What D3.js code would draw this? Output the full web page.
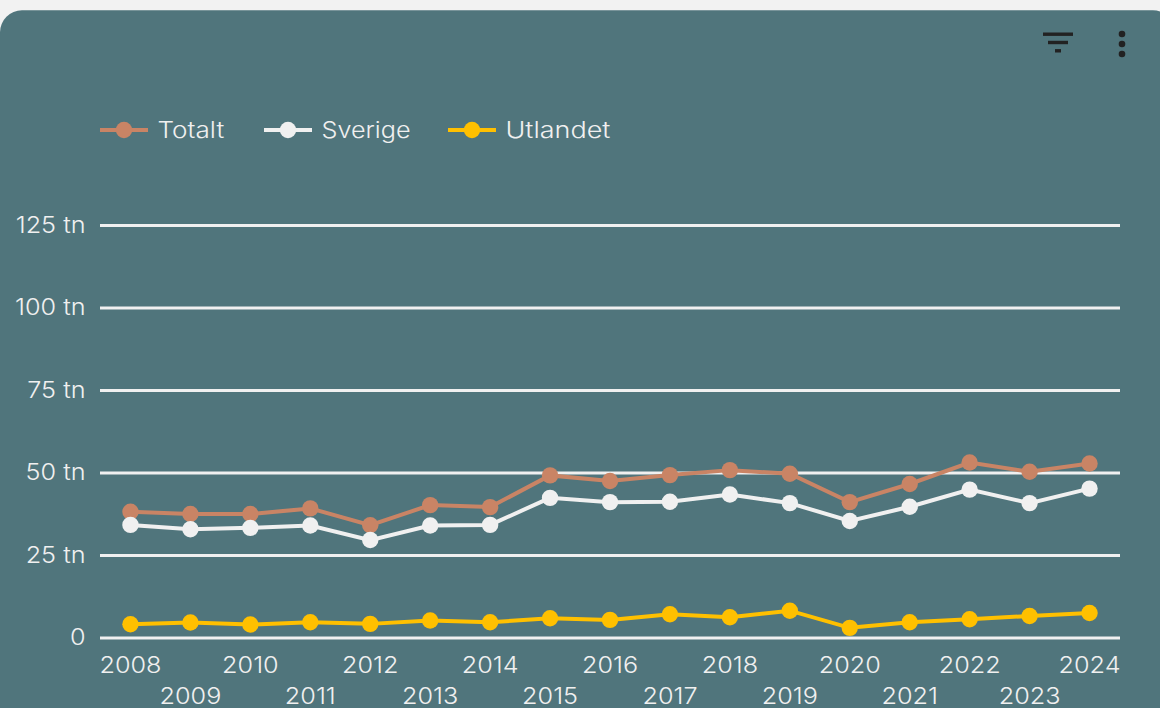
<!DOCTYPE html>
<html lang="sv">
<head>
<meta charset="utf-8">
<title>Totalt, Sverige, Utlandet</title>
<script src="https://cdn.jsdelivr.net/npm/d3@7"></script>
<style>
  html, body { margin: 0; padding: 0; background: #f2f2f2; overflow: hidden; }
  svg { display: block; }
  text { font-family: Inter, "Open Sans", sans-serif; font-weight: 300; fill: #f0f0f0; }
</style>
</head>
<body>
<div id="chart"></div>
<script>
const years = d3.range(2008, 2025);
const yTicks = [0, 25, 50, 75, 100, 125];

const totalt = [38.1, 37.4, 37.4, 39.1, 34.0, 40.1, 39.5, 49.1, 47.4, 49.2, 50.7, 49.6, 41.0, 46.5, 53.0, 50.2, 52.7];
const sverige = [34.1, 32.8, 33.2, 33.9, 29.5, 33.9, 34.1, 42.3, 41.0, 41.1, 43.3, 40.7, 35.3, 39.6, 44.8, 40.7, 45.1];
const utlandet = [4.0, 4.5, 3.9, 4.6, 4.1, 5.1, 4.6, 5.8, 5.3, 7.0, 6.1, 8.1, 2.9, 4.6, 5.5, 6.5, 7.4];

const seriesNames = ['Totalt', 'Sverige', 'Utlandet'];
const seriesValues = [totalt, sverige, utlandet];
const seriesColors = ['#c98465', '#f0f0f0', '#ffc000'];

const config = {
  width: 1160,
  height: 708,
  plot: { left: 100, right: 1120, top: 225, bottom: 637.4 },
  background: '#50757c',
  fontSize: 22.5,
  lineWidth: 4,
  markerRadius: 8.2
};

// Montserrat is not installed, so the narrower Inter gets stretched to its width
function stretch(selection, factor) {
  selection.each(function() {
    d3.select(this)
      .attr('textLength', this.getComputedTextLength() * factor)
      .attr('lengthAdjust', 'spacingAndGlyphs');
  });
}

const svg = d3.select('#chart')
  .append('svg')
  .attr('width', config.width)
  .attr('height', config.height);

// card, runs past the right edge of the window
svg.append('rect')
  .attr('x', 0)
  .attr('y', 10.3)
  .attr('width', config.width + 15)
  .attr('height', config.height + 40)
  .attr('rx', 22)
  .attr('fill', config.background);

const xScale = d3.scaleBand()
  .domain(years)
  .range([config.plot.left + 0.5, config.plot.right - 0.5]);

const yScale = d3.scaleLinear()
  .domain([0, 125])
  .range([config.plot.bottom, config.plot.top]);

// y axis with the gridlines as its ticks
const yAxis = svg.append('g')
  .attr('transform', `translate(${config.plot.left},0)`)
  .call(d3.axisLeft(yScale)
    .tickValues(yTicks)
    .tickSize(-(config.plot.right - config.plot.left))
    .tickPadding(14.5)
    .tickFormat(d => d === 0 ? '0' : `${d} tn`));
yAxis.select('.domain').remove();
yAxis.selectAll('line').attr('stroke', '#f0f0f0').attr('stroke-width', 3);
yAxis.selectAll('text')
  .attr('font-size', config.fontSize)
  .attr('fill', '#f0f0f0')
  .call(stretch, 1.12);

// x axis, every other label on a second row
const xAxis = svg.append('g')
  .attr('transform', `translate(0,${config.plot.bottom})`)
  .call(d3.axisBottom(xScale).tickSize(0).tickPadding(0));
xAxis.select('.domain').remove();
xAxis.selectAll('text')
  .attr('font-size', config.fontSize)
  .attr('fill', '#f0f0f0')
  .attr('dy', 0)
  .attr('y', (d, i) => i % 2 === 0 ? 36 : 67)
  .call(stretch, 1.12);

const line = d3.line()
  .x((d, i) => xScale(years[i]) + xScale.bandwidth() / 2)
  .y(d => yScale(d));

seriesValues.forEach((values, s) => {
  const g = svg.append('g').attr('class', 'series');
  g.append('path')
    .datum(values)
    .attr('d', line)
    .attr('fill', 'none')
    .attr('stroke', seriesColors[s])
    .attr('stroke-width', config.lineWidth);
  g.selectAll('circle')
    .data(values)
    .enter()
    .append('circle')
    .attr('cx', (d, i) => xScale(years[i]) + xScale.bandwidth() / 2)
    .attr('cy', d => yScale(d))
    .attr('r', config.markerRadius)
    .attr('fill', seriesColors[s]);
});

// legend
const legendX = [100, 264, 448];
const legendY = 130;
const legendStretch = [1.16, 1.12, 1.2];
seriesNames.forEach((name, s) => {
  const g = svg.append('g').attr('transform', `translate(${legendX[s]},${legendY})`);
  g.append('line')
    .attr('x1', 0).attr('x2', 48)
    .attr('stroke', seriesColors[s])
    .attr('stroke-width', config.lineWidth);
  g.append('circle')
    .attr('cx', 24)
    .attr('r', config.markerRadius)
    .attr('fill', seriesColors[s]);
  g.append('text')
    .attr('x', 57.5)
    .attr('dy', '0.35em')
    .attr('font-size', config.fontSize)
    .text(name)
    .call(stretch, legendStretch[s]);
});

// toolbar icons
const iconColor = '#222222';
[[1043, 30], [1048, 20], [1055, 6]].forEach(([x, w], i) => {
  svg.append('rect')
    .attr('x', x)
    .attr('y', 32.5 + i * 8.3)
    .attr('width', w)
    .attr('height', 3.4)
    .attr('fill', iconColor);
});
[34, 44, 54].forEach(cy => {
  svg.append('circle')
    .attr('cx', 1122)
    .attr('cy', cy)
    .attr('r', 3.3)
    .attr('fill', iconColor);
});
</script>
</body>
</html>
